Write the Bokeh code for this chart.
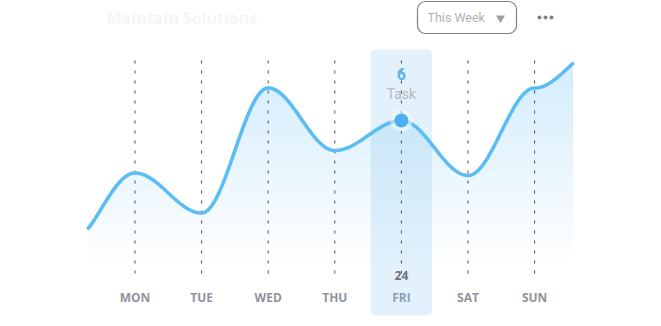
import numpy as np
from bokeh.plotting import figure
from bokeh.models import Range1d
from bokeh.core.properties import value
from bokeh.embed import file_html
from bokeh.resources import INLINE

# ---- data ----
days = ["MON", "TUE", "WED", "THU", "FRI", "SAT", "SUN"]
tasks = [3.9, 2.3, 7.3, 4.8, 6.0, 3.8, 7.3]
prev_day_val = 1.1     # value of the day before MON (curve enters from left)
next_day_val = 8.9     # value of the day after SUN (curve leaves to the right)
visible_span = [-0.7, 6.57]   # part of the curve that is shown (day units)
selected_day = "FRI"
selected_date = "24"
title_text = "Maintain Solutions"
period_text = "This Week"

# ---- smooth curve: cubic Beziers with flat handles at every node (rendering) ----
node_x = [-1] + list(range(len(days))) + [len(days)]
node_y = [prev_day_val] + tasks + [next_day_val]
K = 0.35
cx, cy = [], []
t = np.linspace(0, 1, 120)
for a in range(len(node_x) - 1):
    x0, x3 = node_x[a], node_x[a + 1]
    y0, y3 = node_y[a], node_y[a + 1]
    hlen = (x3 - x0) * K
    x1, x2 = x0 + hlen, x3 - hlen
    bx = (1 - t)**3 * x0 + 3 * (1 - t)**2 * t * x1 + 3 * (1 - t) * t**2 * x2 + t**3 * x3
    by = (1 - t)**3 * y0 + 3 * (1 - t)**2 * t * y0 + 3 * (1 - t) * t**2 * y3 + t**3 * y3
    cx.extend(bx[:-1] if a < len(node_x) - 2 else bx)
    cy.extend(by[:-1] if a < len(node_x) - 2 else by)
cx = np.array(cx); cy = np.array(cy)
xs = np.concatenate([[visible_span[0]], cx[(cx > visible_span[0]) & (cx < visible_span[1])], [visible_span[1]]])
ys = np.interp(xs, cx, cy)

# ---- figure: pixel mapping x_px = 134.5 + 66.6*x ; y_px = 270 - 25*v ----
W, H = 661, 326
X0, DX = 134.5, 66.6
Y0, DY = 270.0, 25.0
def px(xp): return (xp - X0) / DX
def py(yp): return (Y0 - yp) / DY

p = figure(width=W, height=H, output_backend="svg", toolbar_location=None,
           x_range=Range1d(px(0), px(W)), y_range=Range1d(py(H), py(0)),
           min_border=0, min_border_left=0, min_border_right=0,
           min_border_top=0, min_border_bottom=0)
p.axis.visible = False
p.grid.visible = False
p.outline_line_color = None
p.background_fill_color = "white"
p.border_fill_color = "white"

# ---- gradient area under curve ----
top_c = np.array([0xd6, 0xed, 0xfc]); bot_c = np.array([0xff, 0xff, 0xff])
levels = np.linspace(9.0, -0.6, 48)
base = -0.6
for L in levels:
    f = np.clip((L - 0.3) / (7.8 - 0.3), 0, 1)
    c = (bot_c + (top_c - bot_c) * f).round().astype(int)
    col = "#%02x%02x%02x" % tuple(c)
    p.varea(x=xs, y1=np.full_like(xs, base), y2=np.minimum(ys, L), fill_color=col, fill_alpha=1.0)

# ---- highlight band ----
xi = list(range(len(days)))
fi = days.index(selected_day)
p.quad(left=[fi - 0.46], right=[fi + 0.46], top=[py(49)], bottom=[py(315)],
       fill_color="#8cc8f0", fill_alpha=0.25, line_color=None, border_radius=5)

# ---- dashed day lines ----
p.segment(x0=xi, x1=xi, y0=[py(60)] * len(xi), y1=[py(276)] * len(xi),
          line_color="#4a4a4a", line_width=1, line_dash="3 7")

# ---- curve ----
p.line(xs, ys, line_color="#5cbdf4", line_width=3.6, line_cap="round")

# ---- selected point ----
p.scatter([fi], [tasks[fi]], size=22, fill_color="white", fill_alpha=0.5, line_color=None)
p.scatter([fi], [tasks[fi]], size=14, fill_color="#4eaef0", line_color=None)

# ---- tooltip texts ----
p.text([fi], [py(73)], text=[str(int(round(tasks[fi])))], text_font=value("Roboto"),
       text_font_size="16px", text_font_style="bold", text_color="#5ab4f0",
       text_align="center", text_baseline="middle")
p.text([fi], [py(93)], text=["Task"], text_font=value("Roboto"),
       text_font_size="14px", text_color="#b5b9c0",
       text_align="center", text_baseline="middle")
p.text([fi], [py(275)], text=[selected_date], text_font=value("Open Sans"),
       text_font_size="12px", text_font_style="bold", text_color="#6e7482",
       text_align="center", text_baseline="middle")

# ---- day labels ----
day_colors = ["#8f939d"] * len(days)
day_colors[fi] = "#8fa0b4"
p.text(xi, [py(297)] * len(xi), text=days, text_font=value("Open Sans"),
       text_font_size="12px", text_font_style="bold", text_color=day_colors,
       text_align="center", text_baseline="middle")

# ---- header ----
p.text([px(106)], [py(17)], text=[title_text], text_font=value("Open Sans"),
       text_font_size="16px", text_font_style="bold", text_color="#f5f5f5",
       text_align="left", text_baseline="middle")
p.rect(x=[px(466.5)], y=[py(17)], width=99 / DX, height=32 / DY,
       fill_color="white", line_color="#7f7f7f", line_width=1.2, border_radius=8)
p.text([px(427)], [py(17)], text=[period_text], text_font=value("Roboto"),
       text_font_size="12.5px", text_color="#b2b2b2",
       text_align="left", text_baseline="middle")
p.scatter([px(500)], [py(17.5)], marker="inverted_triangle", size=9,
          fill_color="#a0a0a0", line_color=None)
p.scatter([px(539), px(545), px(551)], [py(17)] * 3, size=4,
          fill_color="#808080", line_color=None)

open("out.html", "w").write(file_html(p, INLINE))
